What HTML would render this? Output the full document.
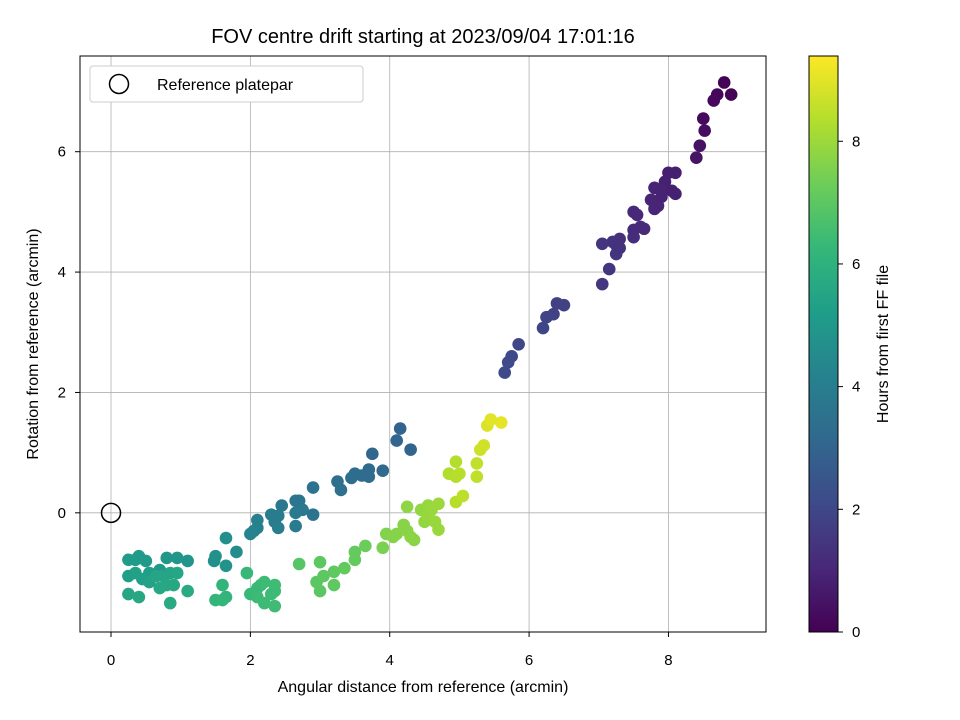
<!DOCTYPE html>
<html><head><meta charset="utf-8"><style>
body{margin:0;background:#fff;}
svg{display:block;font-family:"Liberation Sans","DejaVu Sans",sans-serif;}
</style></head><body>
<svg id="c" width="960" height="720" xmlns="http://www.w3.org/2000/svg"></svg>
<script>
const xs=[8.8,8.9,8.7,8.65,8.5,8.52,8.45,8.4,
8.0,8.1,7.95,7.8,7.9,8.05,8.1,7.75,7.8,7.85,7.9,7.8,7.5,7.55,7.6,7.5,7.65,7.5,
7.3,7.25,7.2,7.05,7.25,7.3,7.15,7.05,
6.5,6.4,6.35,6.25,6.2,5.85,5.75,5.7,5.65,
4.15,4.1,4.3,3.75,3.9,3.7,3.6,3.7,3.5,3.45,3.25,3.3,2.9,2.7,2.65,2.45,2.75,2.65,2.9,2.4,2.3,2.35,2.4,2.65,2.1,2.1,2.05,2.0,
1.8,1.65,1.5,1.48,1.65,1.1,0.95,0.8,0.7,0.4,0.35,0.5,0.25,0.55,0.25,0.45,0.35,0.55,
0.75,0.85,0.95,0.8,0.7,0.9,1.1,0.85,0.25,0.4,0.65,
1.6,1.65,1.5,1.6,1.95,2.0,2.1,2.15,2.2,2.1,2.2,2.35,2.35,2.35,2.3,
2.7,2.95,3.0,3.05,3.0,3.2,3.2,3.35,3.5,3.5,3.65,
3.9,3.95,4.05,4.1,4.2,4.25,4.3,4.35,4.25,4.45,4.5,4.55,4.55,4.6,4.65,4.7,4.7,
4.85,4.95,4.95,5.0,4.95,5.05,5.25,5.25,5.3,5.35,5.4,5.45,5.6];
const ys=[7.15,6.95,6.95,6.85,6.55,6.35,6.1,5.9,
5.65,5.65,5.5,5.4,5.35,5.35,5.3,5.2,5.15,5.1,5.25,5.05,5.0,4.95,4.75,4.7,4.72,4.58,
4.55,4.45,4.5,4.47,4.3,4.4,4.05,3.8,
3.45,3.48,3.3,3.25,3.07,2.8,2.6,2.5,2.33,
1.4,1.2,1.05,0.98,0.7,0.72,0.62,0.6,0.65,0.58,0.52,0.38,0.42,0.2,0.2,0.12,0.05,0.0,-0.03,-0.05,-0.03,-0.15,-0.25,-0.22,-0.12,-0.25,-0.3,-0.35,
-0.65,-0.42,-0.72,-0.8,-0.88,-0.8,-0.75,-0.75,-0.95,-0.72,-0.78,-0.8,-0.78,-1.0,-1.05,-1.1,-1.0,-1.15,
-1.05,-1.0,-1.0,-1.2,-1.25,-1.2,-1.3,-1.5,-1.35,-1.4,-1.05,
-1.2,-1.4,-1.45,-1.45,-1.0,-1.35,-1.25,-1.2,-1.15,-1.4,-1.5,-1.3,-1.2,-1.55,-1.35,
-0.85,-1.15,-1.3,-1.05,-0.82,-0.98,-1.2,-0.92,-0.65,-0.78,-0.55,
-0.58,-0.35,-0.4,-0.35,-0.2,-0.3,-0.4,-0.45,0.1,0.05,-0.15,0.12,-0.05,0.05,-0.15,-0.28,0.15,
0.65,0.6,0.85,0.65,0.18,0.28,0.6,0.82,1.05,1.12,1.45,1.55,1.5];
const ts=[0.05,0.1,0.15,0.2,0.3,0.35,0.45,0.5,
0.8,0.8,0.85,0.9,0.9,0.85,0.85,0.95,0.95,1.0,0.9,1.0,1.05,1.05,1.1,1.15,1.1,1.2,
1.3,1.35,1.35,1.4,1.4,1.35,1.45,1.5,
1.8,1.8,1.85,1.9,1.95,2.0,2.05,2.1,2.1,
3.0,3.05,3.0,3.1,3.2,3.25,3.3,3.3,3.35,3.35,3.4,3.45,3.55,3.7,3.7,3.75,3.8,3.85,3.6,3.9,3.95,3.95,4.0,3.9,4.1,4.15,4.2,4.25,
4.6,4.65,4.7,4.75,4.8,4.85,4.9,4.95,5.0,5.05,5.1,5.1,5.15,5.2,5.25,5.3,5.35,5.4,
5.5,5.5,5.55,5.6,5.6,5.65,5.7,5.7,5.55,5.6,5.5,
6.1,6.15,6.15,6.2,6.3,6.3,6.35,6.35,6.4,6.4,6.4,6.45,6.45,6.45,6.4,
6.9,6.95,6.95,7.0,7.0,7.05,7.05,7.1,7.15,7.15,7.25,
7.5,7.6,7.65,7.65,7.7,7.7,7.75,7.75,7.8,7.85,7.85,7.9,7.9,7.95,7.95,7.95,8.0,
8.3,8.35,8.35,8.4,8.4,8.45,8.5,8.55,8.7,8.75,8.9,9.0,9.05];
const xTicks=[0,2,4,6,8], yTicks=[0,2,4,6], cTicks=[0,2,4,6,8];
const X0=80,X1=766,Y0=56,Y1=632, XMIN=-0.445,XMAX=9.4,YMIN=-1.98,YMAX=7.59,TMAX=9.39;
const sx=v=>X0+(v-XMIN)/(XMAX-XMIN)*(X1-X0);
const sy=v=>Y1-(v-YMIN)/(YMAX-YMIN)*(Y1-Y0);
const sc=v=>632-v/TMAX*576;
const vir=[[68,1,84],[72,40,120],[62,74,137],[49,104,142],[38,130,142],[31,158,137],[53,183,121],[109,205,89],[180,222,44],[253,231,37]];
function cmap(t){let f=Math.max(0,Math.min(1,t/TMAX))*9,i=Math.min(8,Math.floor(f)),r=f-i;const a=vir[i],b=vir[i+1];return `rgb(${a.map((v,k)=>Math.round(v+(b[k]-v)*r)).join(',')})`;}
const svg=document.getElementById('c');const NS='http://www.w3.org/2000/svg';
function el(tag,at,parent){const e=document.createElementNS(NS,tag);for(const k in at)e.setAttribute(k,at[k]);(parent||svg).appendChild(e);return e;}
function txt(s,at,name){const e=el('text',at);e.textContent=s;return e;}
let g=el('g',{});
xTicks.forEach(v=>{el('line',{x1:sx(v),x2:sx(v),y1:Y0,y2:Y1,stroke:'#b0b0b0','stroke-width':0.8},g);});
yTicks.forEach(v=>{el('line',{x1:X0,x2:X1,y1:sy(v),y2:sy(v),stroke:'#b0b0b0','stroke-width':0.8},g);});
let pts=el('g',{});
for(let i=0;i<xs.length;i++){const c=el('circle',{cx:sx(xs[i]),cy:sy(ys[i]),r:6.3,fill:cmap(ts[i])},pts);

}
let ref=el('circle',{cx:sx(0),cy:sy(0),r:9.5,fill:'none',stroke:'#000','stroke-width':1.5});

let fr=el('rect',{x:X0,y:Y0,width:X1-X0,height:Y1-Y0,fill:'none',stroke:'#000','stroke-width':1});

xTicks.forEach(v=>{el('line',{x1:sx(v),x2:sx(v),y1:Y1,y2:Y1+5,stroke:'#000'});txt(String(v),{x:sx(v),y:Y1+33,'font-size':15,'text-anchor':'middle'},'x-tick-label');});
yTicks.forEach(v=>{el('line',{x1:X0-5,x2:X0,y1:sy(v),y2:sy(v),stroke:'#000'});txt(String(v),{x:X0-14,y:sy(v)+5,'font-size':15,'text-anchor':'end'},'y-tick-label');});
txt('FOV centre drift starting at 2023/09/04 17:01:16',{x:423,y:43,'font-size':20,'text-anchor':'middle'},'chart-title');
txt('Angular distance from reference (arcmin)',{x:423,y:692,'font-size':16,'text-anchor':'middle'},'x-axis-title');
txt('Rotation from reference (arcmin)',{x:0,y:0,'font-size':16,'text-anchor':'middle',transform:'translate(38,344) rotate(-90)'},'y-axis-title');
let lg=el('g',{});
el('rect',{x:90,y:66,width:273,height:36,rx:3,fill:'#fff',stroke:'#ccc'},lg);
el('circle',{cx:119,cy:84,r:9.5,fill:'none',stroke:'#000','stroke-width':1.5},lg);
txt('Reference platepar',{x:157,y:90,'font-size':16},'legend-label');
const defs=el('defs',{});const gr=el('linearGradient',{id:'vg',x1:0,y1:1,x2:0,y2:0},defs);
vir.forEach((c,i)=>el('stop',{offset:(i/9),'stop-color':`rgb(${c.join(',')})`},gr));
let cb=el('rect',{x:809,y:56,width:29,height:576,fill:'url(#vg)',stroke:'#000','stroke-width':1});

cTicks.forEach(v=>{el('line',{x1:838,x2:843,y1:sc(v),y2:sc(v),stroke:'#000'});txt(String(v),{x:852,y:sc(v)+5,'font-size':15},'colorbar-tick-label');});
txt('Hours from first FF file',{x:0,y:0,'font-size':16,'text-anchor':'middle',transform:'translate(888,344) rotate(-90)'},'colorbar-title');
</script>
</body></html>
